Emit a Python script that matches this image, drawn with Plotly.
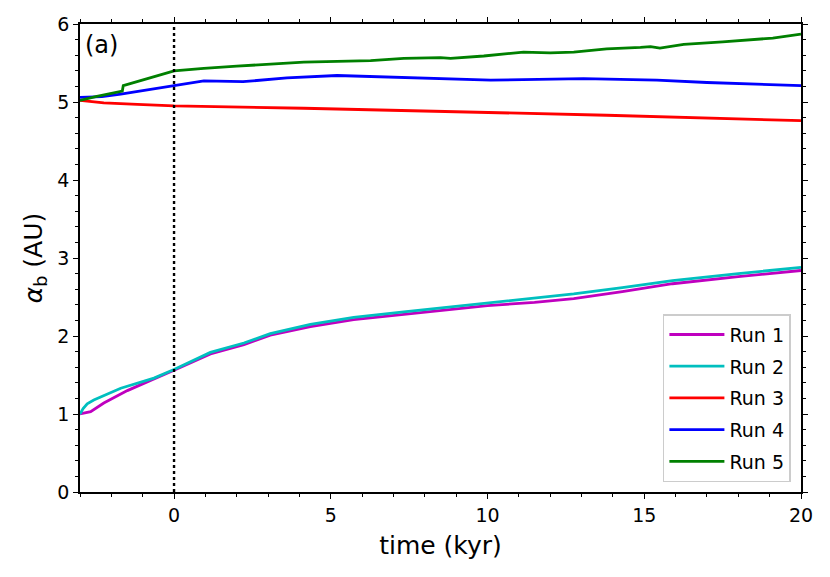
import plotly.graph_objects as go

# time in kyr, semi-major axis in AU
t_run1 = [-3.0, -2.66, -2.24, -1.49, -0.64, 0.0, 1.16, 2.23, 3.07, 4.35, 5.73, 7.33, 8.8, 10.0, 11.5, 12.75, 14.3, 15.9, 18.0, 20.0]
a_run1 = [1.0, 1.03, 1.14, 1.30, 1.45, 1.56, 1.77, 1.89, 2.01, 2.12, 2.21, 2.28, 2.34, 2.39, 2.43, 2.48, 2.57, 2.67, 2.76, 2.84]

t_run2 = [-3.0, -2.9, -2.77, -2.56, -1.7, -0.64, 0.0, 1.16, 2.23, 3.07, 4.35, 5.73, 7.33, 8.8, 10.0, 11.5, 12.75, 14.3, 15.9, 18.0, 20.0]
a_run2 = [1.0, 1.07, 1.13, 1.18, 1.33, 1.46, 1.57, 1.79, 1.91, 2.03, 2.15, 2.24, 2.31, 2.37, 2.42, 2.48, 2.54, 2.62, 2.71, 2.80, 2.88]

t_run3 = [-3.0, -2.24, -1.17, 0.0, 4.14, 8.8, 13.8, 20.0]
a_run3 = [5.02, 4.99, 4.97, 4.95, 4.92, 4.88, 4.83, 4.76]

t_run4 = [-3.0, -2.3, -1.7, -0.96, 0.0, 0.95, 2.2, 3.6, 5.2, 6.8, 8.8, 10.1, 13.06, 15.4, 17.0, 20.0]
a_run4 = [5.06, 5.07, 5.10, 5.15, 5.21, 5.27, 5.26, 5.31, 5.34, 5.32, 5.30, 5.28, 5.30, 5.28, 5.25, 5.21]

t_run5 = [-3.0, -2.5, -1.65, -1.62, -0.85, 0.0, 0.95, 2.0, 4.14, 6.27, 7.33, 8.5, 8.82, 9.88, 11.15, 12.0, 12.75,
          13.8, 14.88, 15.2, 15.5, 16.26, 17.5, 18.6, 19.1, 20.0]
a_run5 = [5.02, 5.07, 5.14, 5.21, 5.30, 5.40, 5.43, 5.46, 5.51, 5.53, 5.56, 5.57, 5.56, 5.59, 5.64, 5.63, 5.64,
          5.68, 5.70, 5.71, 5.69, 5.74, 5.77, 5.80, 5.82, 5.87]

runs = [
    ("Run 1", t_run1, a_run1, "#bf00bf"),
    ("Run 2", t_run2, a_run2, "#00bfbf"),
    ("Run 3", t_run3, a_run3, "#ff0000"),
    ("Run 4", t_run4, a_run4, "#0000ff"),
    ("Run 5", t_run5, a_run5, "#008000"),
]

FONT = "DejaVu Sans"

fig = go.Figure()
for name, t, a, color in runs:
    fig.add_trace(go.Scatter(
        x=t, y=a, name=name, mode="lines",
        line=dict(color=color, width=2.8),
        legendgroup=name,
    ))

# dotted marker at t = 0
fig.add_vline(x=0, line=dict(color="black", width=2.4, dash="dot"), layer="above")

fig.add_annotation(
    text="(a)", xref="paper", yref="paper", x=0.004, y=0.99,
    xanchor="left", yanchor="top", showarrow=False,
    font=dict(family=FONT, size=24, color="black"),
)

axis_common = dict(
    showgrid=False, zeroline=False, automargin=False,
    showline=True, linecolor="black", linewidth=1.5,
    mirror="allticks", ticks="outside", ticklen=5, tickwidth=1.3, tickcolor="black",
    tickfont=dict(family=FONT, size=19, color="black"),
)

fig.update_xaxes(
    range=[-3, 20], tick0=0, dtick=5,
    minor=dict(dtick=1, ticks="outside", ticklen=3, tickwidth=1, tickcolor="black"),
    title=dict(text="time (kyr)", font=dict(family=FONT, size=25, color="black"), standoff=12),
    **axis_common,
)
fig.update_yaxes(
    range=[0, 6], tick0=0, dtick=1,
    minor=dict(dtick=0.2, ticks="outside", ticklen=3, tickwidth=1, tickcolor="black"),
    title=dict(text="<i>α</i><sub>b</sub> (AU)", font=dict(family=FONT, size=25, color="black"), standoff=8),
    **axis_common,
)

# page body adds 8px, so margins are offset to land the axes where the reference has them
fig.update_layout(
    width=830, height=577,
    margin=dict(l=72, r=37, t=16, b=93),
    plot_bgcolor="white", paper_bgcolor="white",
    font=dict(family=FONT, color="black"),
    legend=dict(
        x=0.986, y=0.021, xanchor="right", yanchor="bottom",
        bgcolor="rgba(255,255,255,0.8)", bordercolor="#cccccc", borderwidth=1.5,
        font=dict(family=FONT, size=19, color="black"),
        traceorder="grouped", tracegroupgap=4,
        itemwidth=55,
    ),
)

fig.write_html("out.html")
